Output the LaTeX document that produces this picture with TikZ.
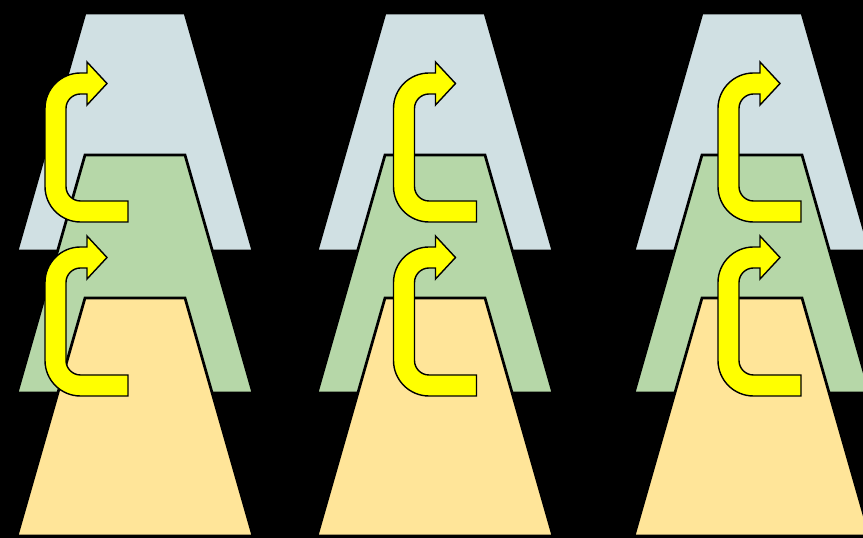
\documentclass[tikz,border=0pt]{standalone}
\definecolor{layerA}{HTML}{D0E0E3}
\definecolor{layerB}{HTML}{B6D7A8}
\definecolor{layerC}{HTML}{FFE599}
\definecolor{arrowfill}{HTML}{FFFF00}
\tikzset{
  layer/.style={draw=black, line width=2.7pt, line join=miter},
  uarrow/.style={fill=arrowfill, draw=black, line width=1.4pt, line join=miter},
  pics/trap/.style={code={
    \path[layer,#1] (68,0) -- (0,-238) -- (236,-238) -- (168,0) -- cycle;
  }},
  pics/turnarrow/.style={code={
    \path[uarrow] (72.5,-10.5) -- (25,-10.5)
      arc[start angle=270, end angle=180, radius=35.5]
      -- (-10.5,103)
      arc[start angle=180, end angle=90, radius=35.5]
      -- (31.5,138.5) -- (31.5,149.5) -- (51.5,128) -- (31.5,106.5) -- (31.5,117.5) -- (25,117.5)
      arc[start angle=90, end angle=180, radius=14.5]
      -- (10.5,25)
      arc[start angle=180, end angle=270, radius=14.5]
      -- (72.5,10.5) -- cycle;
  }}
}
\begin{document}
\begin{tikzpicture}[x=1pt,y=1pt]
  \fill[black] (0,0) rectangle (863,538);
  \useasboundingbox (0,0) rectangle (863,538);
  \begin{scope}
    \clip (0,0) rectangle (863,538);
    \foreach \cx in {17,317,634}{
      \pic at (\cx,525) {trap={fill=layerA}};
      \pic at (\cx,383) {trap={fill=layerB}};
      \pic at (\cx,240) {trap={fill=layerC}};
    }
    \foreach \ax in {55.5,404,728.5}{
      \pic at (\ax,326.5) {turnarrow};
      \pic at (\ax,152.5) {turnarrow};
    }
  \end{scope}
\end{tikzpicture}
\end{document}
